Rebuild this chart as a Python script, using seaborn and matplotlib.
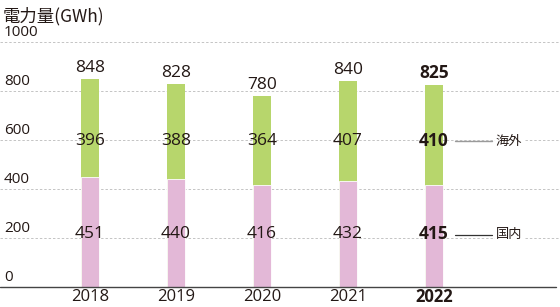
import matplotlib
matplotlib.use("Agg")
import matplotlib.pyplot as plt
import matplotlib.transforms as mtransforms
import seaborn as sns
import pandas as pd

years = ["2018", "2019", "2020", "2021", "2022"]
domestic = [451, 440, 416, 432, 415]
overseas = [396, 388, 364, 407, 410]
totals = [848, 828, 780, 840, 825]
yticks = [0, 200, 400, 600, 800, 1000]
title = "電力量(GWh)"
label_overseas = "海外"
label_domestic = "国内"

sns.set_theme(style="white")
plt.rcParams['font.family'] = ['Open Sans', 'Noto Sans CJK JP', 'DejaVu Sans']
JP = ['Noto Sans CJK JP', 'DejaVu Sans']

df = pd.DataFrame({"year": years, "domestic": domestic, "overseas": overseas})
df["stack"] = df["domestic"] + df["overseas"]

W, H = 560, 307
fig = plt.figure(figsize=(W / 100, H / 100), dpi=100)
ax = fig.add_axes([0, 0, 1, 1])

green = "#b7d66c"
pink = "#e3b8d7"
sns.barplot(data=df, x="year", y="stack", color=green, width=0.21, ax=ax,
            saturation=1, edgecolor="none", zorder=3)
sns.barplot(data=df, x="year", y="domestic", color=pink, width=0.21, ax=ax,
            saturation=1, edgecolor="none", zorder=4)
for p in ax.patches[len(years):]:
    p.set_edgecolor("white"); p.set_linewidth(0.6)

ppx = 0.245  # pixels per unit
ax.set_ylim(-20 / ppx, (H - 20) / ppx)
ax.set_xlim(-90 / 86, (W - 90) / 86)
ax.axis("off")

blend = mtransforms.blended_transform_factory(ax.transAxes, ax.transData)

# grid lines
for t in yticks[1:]:
    ax.plot([0, 1], [t, t], transform=blend, color="#c4c4c4", lw=0.7,
            ls=(0, (2.5, 2)), zorder=1)
ax.plot([0, 0.993], [0, 0], transform=blend, color="#444444", lw=1.0, zorder=5)

txt = "#231815"
for t in yticks:
    ax.text(4 / W, t + 2 / ppx, str(t), transform=blend, ha="left", va="bottom",
            fontsize=11, color=txt)
ax.text(3 / W, 1000 + 17 / ppx, title, transform=blend, ha="left", va="bottom",
        fontsize=12.5, color=txt, family=JP)

for i, y in enumerate(years):
    bold = "bold" if i == len(years) - 1 else "normal"
    ax.text(i, -42, y, ha="center", va="center", fontsize=12, color=txt, fontweight=bold)
    ax.text(i, totals[i] + 3 / ppx, str(totals[i]), ha="center", va="bottom",
            fontsize=12.5, color=txt, fontweight=bold, zorder=6)
    ax.text(i, 218, str(domestic[i]), ha="center", va="center",
            fontsize=12.5, color=txt, fontweight=bold, zorder=6)
    ax.text(i, 595, str(overseas[i]), ha="center", va="center",
            fontsize=12.5, color=txt, fontweight=bold, zorder=6)

# side annotations
ax.plot([455 / W, 492 / W], [595, 595], transform=blend, color="#9a9a9a", lw=1.0, zorder=6)
ax.plot([455 / W, 492 / W], [214, 214], transform=blend, color="#333333", lw=0.9, zorder=6)
ax.text(496 / W, 595, label_overseas, transform=blend, ha="left", va="center",
        fontsize=9.5, color=txt, zorder=6, family=JP,
        bbox=dict(facecolor="white", edgecolor="none", pad=1))
ax.text(496 / W, 214, label_domestic, transform=blend, ha="left", va="center",
        fontsize=9.5, color=txt, zorder=6, family=JP,
        bbox=dict(facecolor="white", edgecolor="none", pad=1))

fig.savefig("out.png", dpi=100)
